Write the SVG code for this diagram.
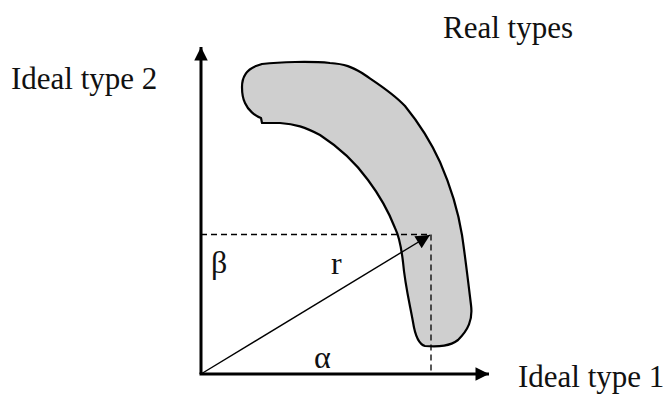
<svg xmlns="http://www.w3.org/2000/svg" width="670" height="406" viewBox="0 0 670 406">
<style>
.lbl{font-family:"Liberation Serif","Times New Roman",serif;font-size:31px;fill:#111}
.sym{font-family:"Liberation Serif","Times New Roman",serif;font-size:32px;fill:#111}
.axis{stroke:#000;stroke-width:3;fill:none}
.dash{stroke:#000;stroke-width:1.3;stroke-dasharray:6 4;fill:none}
</style>
<defs>
<marker id="ah" viewBox="0 0 10 10" refX="10" refY="5" markerWidth="5" markerHeight="4.5" markerUnits="strokeWidth" orient="auto">
<path d="M0,0 L10,5 L0,10 Z" fill="#000"/>
</marker>
<marker id="ar" viewBox="0 0 10 10" refX="10" refY="5" markerWidth="12" markerHeight="10" markerUnits="strokeWidth" orient="auto">
<path d="M0,0 L10,5 L0,10 Z" fill="#000"/>
</marker>
</defs>
<g id="realtypes">
<path d="M242,87 C242,78 246,70 256,66 L262,64 C280,62 310,61 330,63 C345,64 352,67 362,73 C375,82 392,92 405,106 C418,122 430,140 440,162 C450,185 458,210 462,235 C465,255 468,280 471,305 C473,320 468,330 458,340 C450,346 440,347 425,346 C418,344 415,335 413,322 C410,305 405,285 403,262 C401,245 399,236 395,228 C388,210 380,196 368,180 C355,162 340,148 320,135 C305,127 295,124 280,123 L262,123 L261,118 C255,116 248,110 245,103 C242,97 242,92 242,87 Z" fill="#cfcfcf" stroke="#000" stroke-width="2.2" stroke-linejoin="round"/>
<text class="lbl" x="443" y="38">Real types</text>
</g>
<g id="connectors">
<line class="dash" x1="201" y1="234.5" x2="430" y2="234.5"/>
<line class="dash" x1="431" y1="234.5" x2="431" y2="373"/>
<line x1="201" y1="374" x2="201" y2="47" class="axis" marker-end="url(#ah)"/>
<line x1="199.5" y1="374" x2="489" y2="374" class="axis" marker-end="url(#ah)"/>
<line x1="201" y1="374" x2="430" y2="235" stroke="#000" stroke-width="1.4" marker-end="url(#ar)"/>
</g>
<g id="axis2"><text class="lbl" x="11" y="89">Ideal type 2</text></g>
<g id="axis1"><text class="lbl" x="518" y="387">Ideal type 1</text></g>
<g id="labels">
<text class="sym" x="211" y="273">β</text>
<text class="sym" x="331" y="274">r</text>
<text class="sym" x="314" y="368">α</text>
</g>
</svg>
